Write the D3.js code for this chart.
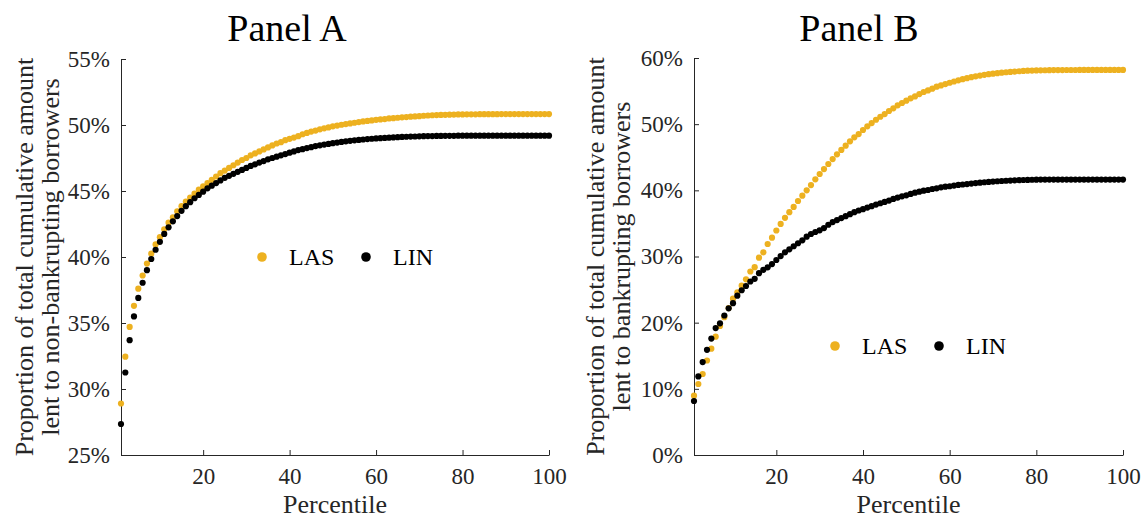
<!DOCTYPE html>
<html>
<head>
  <title>Cumulative amount lent by percentile</title>
  <script src="https://d3js.org/d3.v7.min.js"></script>
  <style>
    body {
      margin: 0;
      background: #fff;
    }
  </style>
</head>
<body>

<div id="chart"></div>

<script>
  // percentiles 1..100
  const percentiles = d3.range(1, 101);

  // Panel A: share lent to non-bankrupting borrowers (%)
  const lasA = [
    28.9, 32.45, 34.7, 36.3, 37.6, 38.6, 39.5, 40.25, 40.95, 41.5,
    42.1, 42.6, 43.0, 43.45, 43.85, 44.2, 44.5, 44.8, 45.1, 45.35,
    45.6, 45.85, 46.1, 46.35, 46.55, 46.75, 46.95, 47.15, 47.35, 47.5,
    47.7, 47.85, 48.0, 48.15, 48.3, 48.45, 48.6, 48.7, 48.85, 48.95,
    49.05, 49.15, 49.3, 49.4, 49.5, 49.58, 49.67, 49.75, 49.82, 49.9,
    49.96, 50.02, 50.07, 50.12, 50.17, 50.22, 50.27, 50.31, 50.35, 50.39,
    50.42, 50.45, 50.5, 50.52, 50.55, 50.58, 50.6, 50.63, 50.65, 50.67,
    50.7, 50.72, 50.74, 50.75, 50.76, 50.77, 50.78, 50.79, 50.8, 50.8,
    50.81, 50.81, 50.81, 50.82, 50.82, 50.82, 50.82, 50.82, 50.83, 50.83,
    50.83, 50.83, 50.83, 50.83, 50.83, 50.83, 50.83, 50.83, 50.83, 50.83
  ];
  const linA = [
    27.35, 31.25, 33.7, 35.5, 36.9, 38.05, 39.0, 39.85, 40.55, 41.15,
    41.75, 42.25, 42.7, 43.1, 43.5, 43.85, 44.15, 44.45, 44.7, 44.95,
    45.2, 45.4, 45.6, 45.8, 46.0, 46.15, 46.3, 46.45, 46.6, 46.75,
    46.9, 47.02, 47.15, 47.27, 47.4, 47.5, 47.6, 47.7, 47.8, 47.9,
    48.0, 48.1, 48.17, 48.25, 48.32, 48.4, 48.46, 48.52, 48.57, 48.62,
    48.67, 48.72, 48.76, 48.8, 48.84, 48.87, 48.9, 48.93, 48.96, 48.98,
    49.0, 49.02, 49.04, 49.06, 49.08, 49.1, 49.11, 49.12, 49.13, 49.14,
    49.15, 49.16, 49.16, 49.17, 49.17, 49.18, 49.18, 49.18, 49.19, 49.19,
    49.19, 49.19, 49.19, 49.19, 49.19, 49.19, 49.19, 49.19, 49.19, 49.19,
    49.19, 49.19, 49.19, 49.19, 49.19, 49.19, 49.19, 49.19, 49.19, 49.19
  ];

  // Panel B: share lent to bankrupting borrowers (%)
  const lasB = [
    8.96, 10.73, 12.24, 14.28, 16.07, 17.88, 19.5, 20.83, 22.2, 23.62,
    24.59, 25.59, 26.55, 27.73, 28.39, 29.82, 30.63, 31.89, 32.84, 33.93,
    34.93, 35.85, 36.7, 37.5, 38.39, 39.2, 40.0, 40.8, 41.66, 42.47,
    43.22, 43.98, 44.73, 45.44, 46.1, 46.75, 47.41, 48.01, 48.51, 49.12,
    49.67, 50.17, 50.67, 51.12, 51.53, 51.99, 52.39, 52.85, 53.2, 53.55,
    53.9, 54.2, 54.55, 54.86, 55.1, 55.36, 55.66, 55.86, 56.06, 56.26,
    56.45, 56.63, 56.8, 56.95, 57.1, 57.23, 57.35, 57.45, 57.55, 57.63,
    57.7, 57.78, 57.85, 57.9, 57.95, 58.0, 58.05, 58.08, 58.1, 58.12,
    58.14, 58.15, 58.16, 58.17, 58.18, 58.18, 58.19, 58.19, 58.19, 58.2,
    58.2, 58.2, 58.2, 58.2, 58.2, 58.2, 58.2, 58.2, 58.2, 58.2
  ];
  const linB = [
    8.16, 11.87, 14.05, 15.9, 17.6, 19.19, 19.9, 21.08, 22.17, 22.95,
    24.08, 24.9, 25.54, 26.22, 26.62, 27.48, 27.98, 28.37, 28.86, 29.47,
    30.07, 30.63, 31.09, 31.55, 32.0, 32.45, 33.0, 33.4, 33.7, 33.95,
    34.3, 34.8, 35.2, 35.5, 35.8, 36.1, 36.4, 36.7, 36.95, 37.15,
    37.4, 37.6, 37.85, 38.05, 38.25, 38.45, 38.7, 38.9, 39.1, 39.25,
    39.45, 39.65, 39.8, 39.95, 40.05, 40.2, 40.3, 40.45, 40.55, 40.62,
    40.72, 40.82, 40.88, 40.95, 41.02, 41.1, 41.16, 41.22, 41.27, 41.32,
    41.37, 41.41, 41.45, 41.48, 41.51, 41.54, 41.56, 41.58, 41.6, 41.61,
    41.62, 41.62, 41.63, 41.63, 41.63, 41.63, 41.63, 41.63, 41.63, 41.63,
    41.63, 41.63, 41.63, 41.63, 41.63, 41.63, 41.63, 41.63, 41.63, 41.63
  ];

  const xTicks = [20, 40, 60, 80, 100];
  const yTicksA = [25, 30, 35, 40, 45, 50, 55];
  const yTicksB = [0, 10, 20, 30, 40, 50, 60];
  const seriesNames = ["LAS", "LIN"];
  const colors = { LAS: "#EDB120", LIN: "#000000" };

  const width = 1144;
  const height = 519;
  const axisColor = "#262626";
  const serif = '"Liberation Serif", Tinos, "Times New Roman", Times, serif';

  const svg = d3.select("#chart")
    .append("svg")
    .attr("width", width)
    .attr("height", height)
    .style("font-family", serif);

  const panels = [
    {
      title: "Panel A", titleX: 287,
      left: 121, right: 549, top: 59, bottom: 455,
      yDomain: [25, 55], yTicks: yTicksA,
      series: { LAS: lasA, LIN: linA },
      yLabel: ["Proportion of total cumulative amount", "lent to non-bankrupting borrowers"],
      labelX: [24, 50],
      legend: { x: 262, y: 257 }
    },
    {
      title: "Panel B", titleX: 859,
      left: 694, right: 1123, top: 58, bottom: 455,
      yDomain: [0, 60], yTicks: yTicksB,
      series: { LAS: lasB, LIN: linB },
      yLabel: ["Proportion of total cumulative amount", "lent to bankrupting borrowers"],
      labelX: [595, 621],
      legend: { x: 835, y: 346 }
    }
  ];

  panels.forEach(p => {
    const x = d3.scaleLinear().domain([1, 100]).range([p.left, p.right]);
    const y = d3.scaleLinear().domain(p.yDomain).range([p.bottom, p.top]);

    // axes
    const xAxis = svg.append("g")
      .attr("transform", `translate(0,${p.bottom})`)
      .call(d3.axisBottom(x).tickValues(xTicks).tickSizeInner(-5).tickSizeOuter(0).tickPadding(13));
    const yAxis = svg.append("g")
      .attr("transform", `translate(${p.left},0)`)
      .call(d3.axisLeft(y).tickValues(p.yTicks).tickFormat(d => d + "%")
        .tickSizeInner(-5).tickSizeOuter(0).tickPadding(11));

    [xAxis, yAxis].forEach(a => {
      a.attr("font-family", null).attr("font-size", 23);
      a.select(".domain").attr("stroke", axisColor);
      a.selectAll(".tick line").attr("stroke", axisColor);
      a.selectAll(".tick text").attr("fill", axisColor).style("font-family", serif);
    });

    // dots
    seriesNames.forEach(name => {
      svg.append("g")
        .selectAll("circle")
        .data(percentiles)
        .enter()
        .append("circle")
        .attr("cx", d => x(d))
        .attr("cy", (d, i) => y(p.series[name][i]))
        .attr("r", 3.1)
        .attr("fill", colors[name]);
    });

    // title
    svg.append("text")
      .attr("x", p.titleX)
      .attr("y", 41)
      .attr("text-anchor", "middle")
      .attr("fill", "#000")
      .attr("font-size", 38)
      .text(p.title);

    // x label
    svg.append("text")
      .attr("x", (p.left + p.right) / 2)
      .attr("y", 513)
      .attr("text-anchor", "middle")
      .attr("fill", axisColor)
      .attr("font-size", 26)
      .text("Percentile");

    // y label, two lines
    p.yLabel.forEach((line, i) => {
      svg.append("text")
        .attr("transform", `translate(${p.labelX[i]},${(p.top + p.bottom) / 2}) rotate(-90)`)
        .attr("text-anchor", "middle")
        .attr("dy", "0.35em")
        .attr("fill", axisColor)
        .attr("font-size", 26)
        .text(line);
    });

    // legend
    const lg = svg.append("g").attr("transform", `translate(${p.legend.x},${p.legend.y})`);
    seriesNames.forEach((name, i) => {
      const item = lg.append("g").attr("transform", `translate(${i * 104},0)`);
      item.append("circle").attr("r", 4.8).attr("fill", colors[name]);
      item.append("text")
        .attr("x", 27)
        .attr("dy", "0.35em")
        .attr("fill", "#000")
        .attr("font-size", 24)
        .text(name);
    });
  });
</script>

</body>
</html>
